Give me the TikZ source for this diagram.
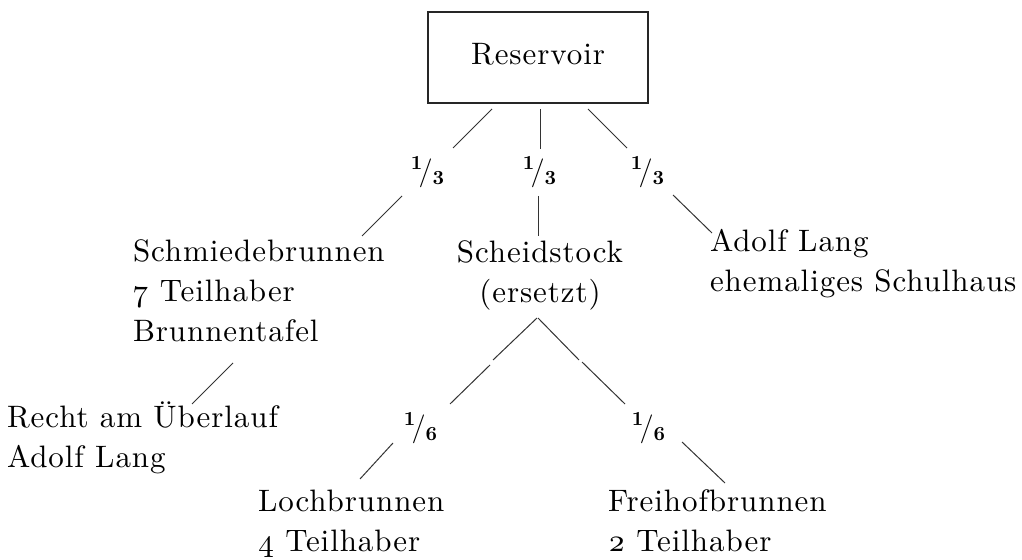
\documentclass[tikz,border=0pt]{standalone}
\usepackage[no-math]{fontspec}
\setmainfont{lmroman10-regular.otf}[LetterSpace=3]
\begin{document}
\begin{tikzpicture}[x=0.5pt,y=-0.5pt,
  txt/.style={inner sep=0pt, outer sep=0pt, font=\fontsize{15.5}{20}\selectfont, align=left, anchor=base west},
  ctxt/.style={inner sep=0pt, outer sep=0pt, font=\fontsize{15.5}{20}\selectfont, align=center, anchor=base},
  frac/.style={inner sep=0pt, outer sep=0pt, font=\fontsize{14}{16}\selectfont},
  conn/.style={draw=black!80, line width=0.5pt},
  box/.style={draw=black!85, line width=1.1pt, minimum width=110pt, minimum height=45.5pt, inner sep=0pt}]
\useasboundingbox (0,0) rectangle (1022,560);
\newcommand{\fr}[2]{$^{\mathbf{#1}}\!/_{\mathbf{#2}}$}
% nodes (base anchor = baseline of the last line)
\node[box] (res) at (538,57.5) {};
\node[ctxt] (restxt) at (538,65) {Reservoir};
\node[frac] (f1) at (428,172) {\fr{1}{3}};
\node[frac] (f2) at (540,172) {\fr{1}{3}};
\node[frac] (f3) at (648,172) {\fr{1}{3}};
\node[txt] (schmied) at (133,342) {Schmiedebrunnen\\\oldstylenums{7} Teilhaber\\Brunnentafel};
\node[ctxt] (scheid) at (540,303) {Scheidstock\\(ersetzt)};
\node[txt] (adolf) at (710,292) {Adolf Lang\\ehemaliges Schulhaus};
\node[txt] (recht) at (7,468) {Recht am Überlauf\\Adolf Lang};
\node[frac] (f4) at (421,428) {\fr{1}{6}};
\node[frac] (f5) at (649,428) {\fr{1}{6}};
\node[txt] (loch) at (258,552) {Lochbrunnen\\\oldstylenums{4} Teilhaber};
\node[txt] (frei) at (608,552) {Freihofbrunnen\\\oldstylenums{2} Teilhaber};
% connector end points
\coordinate (r1) at (492,109); \coordinate (a1) at (453,148);
\coordinate (b1) at (402,196); \coordinate (s1) at (362,236);
\coordinate (r2) at (540,109); \coordinate (a2) at (540,149);
\coordinate (b2) at (538,196); \coordinate (s2) at (538,236);
\coordinate (r3) at (588,109); \coordinate (a3) at (627,148);
\coordinate (b3) at (673,195); \coordinate (s3) at (712,233);
\coordinate (m1) at (233,363); \coordinate (u1) at (192,404);
\coordinate (p1) at (537,318); \coordinate (c1) at (493,360);
\coordinate (c2) at (490,365); \coordinate (a4) at (450,404);
\coordinate (b4) at (393,443); \coordinate (l1) at (360,479);
\coordinate (p2) at (538,318); \coordinate (c3) at (579,360);
\coordinate (c4) at (582,362); \coordinate (a5) at (625,404);
\coordinate (b5) at (682,442); \coordinate (l2) at (725,483);
% connectors
\draw[conn] (r1) -- (a1);
\draw[conn] (b1) -- (s1);
\draw[conn] (r2) -- (a2);
\draw[conn] (b2) -- (s2);
\draw[conn] (r3) -- (a3);
\draw[conn] (b3) -- (s3);
\draw[conn] (m1) -- (u1);
\draw[conn] (p1) -- (c1);
\draw[conn] (c2) -- (a4);
\draw[conn] (b4) -- (l1);
\draw[conn] (p2) -- (c3);
\draw[conn] (c4) -- (a5);
\draw[conn] (b5) -- (l2);
\end{tikzpicture}
\end{document}
